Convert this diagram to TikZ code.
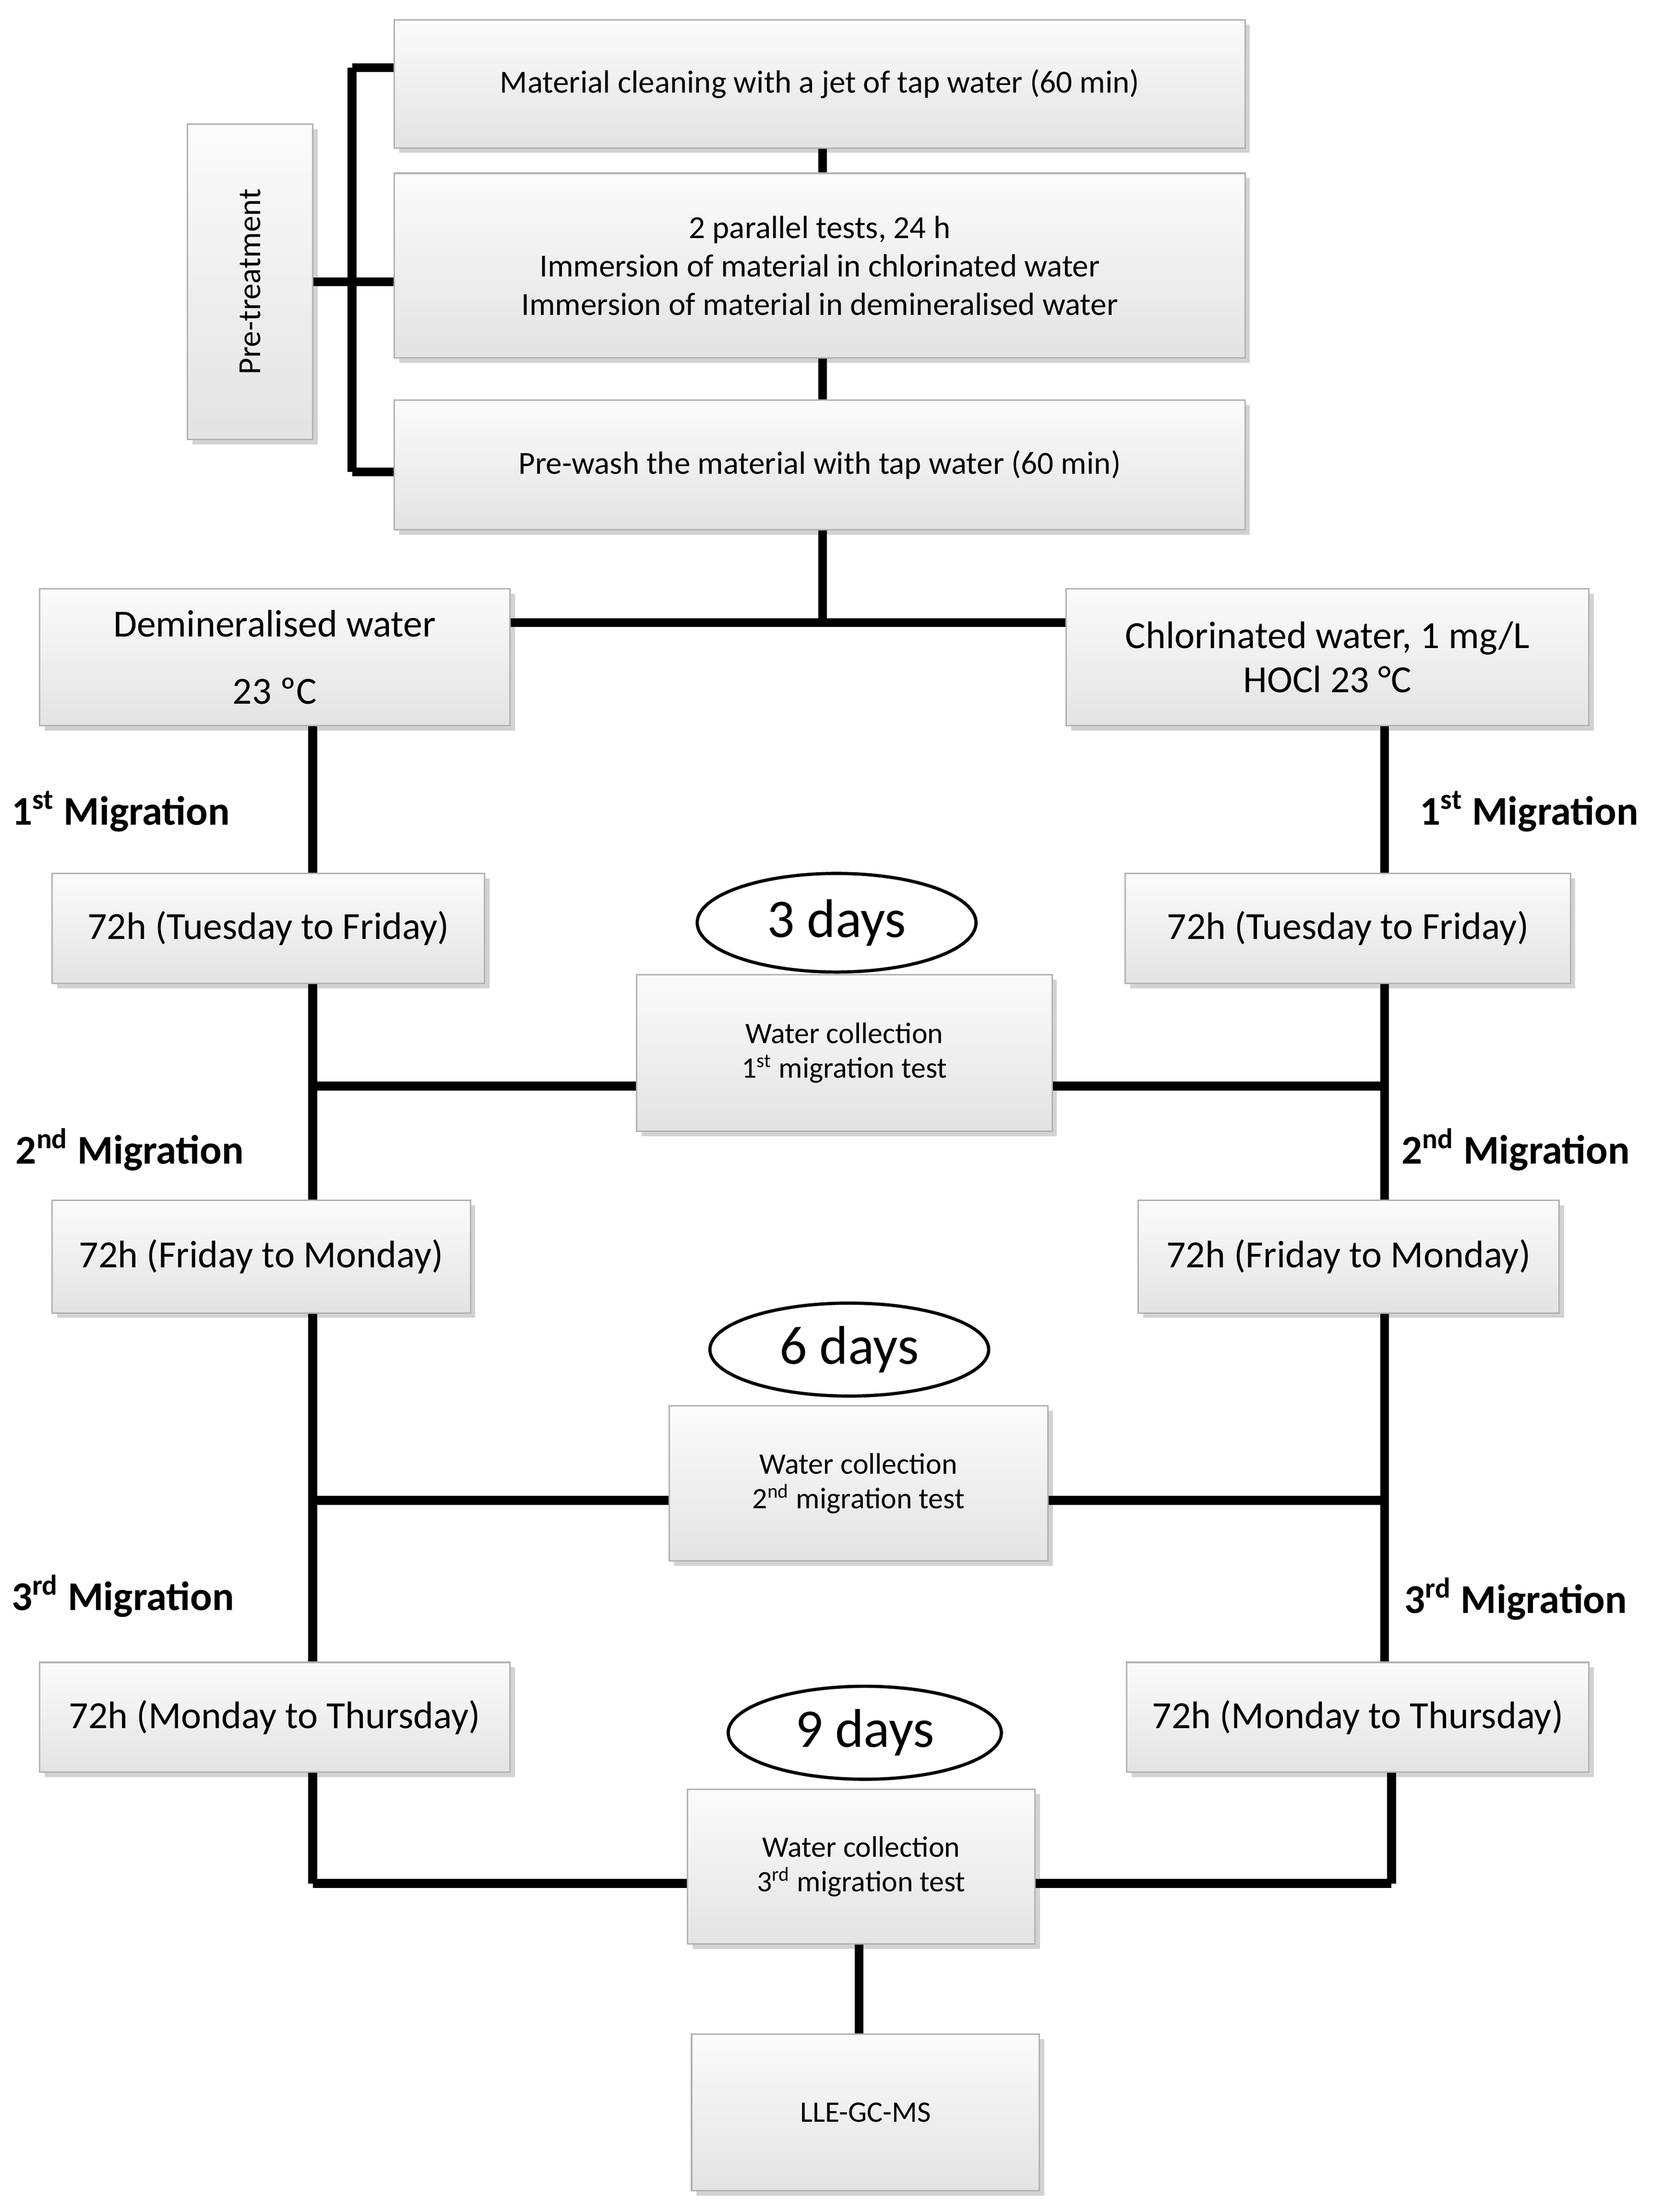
\documentclass[tikz,border=0pt]{standalone}
\usepackage{fontspec}
\setmainfont{Carlito}
\usetikzlibrary{shadows,shapes.geometric}

\tikzset{
  box/.style={draw=gray!60, line width=0.6pt, top color=gray!3, bottom color=gray!22,
    drop shadow={shadow xshift=2pt, shadow yshift=-2pt, fill=gray!70},
    align=center, inner sep=2pt},
  lbl/.style={font=\fontsize{16.5}{18}\selectfont\bfseries, anchor=west},
  oval/.style={ellipse, draw, line width=1.3pt, fill=white, font=\fontsize{22}{24}\selectfont},
  link/.style={line width=3.6pt}
}

\begin{document}
\begin{tikzpicture}[x=0.02cm, y=-0.02cm]
  \useasboundingbox (0,0) rectangle (1180,1570.2);

  % pre-treatment
  \node[box, minimum width=12.08cm, minimum height=1.82cm, font=\fontsize{13}{15}\selectfont] (clean) at (582,59.5) {Material cleaning with a jet of tap water (60 min)};
  \node[box, minimum width=12.08cm, minimum height=2.62cm, font=\fontsize{13}{15.5}\selectfont] (tests) at (582,188.5) {2 parallel tests, 24 h\\Immersion of material in chlorinated water\\Immersion of material in demineralised water};
  \node[box, minimum width=12.08cm, minimum height=1.84cm, font=\fontsize{13}{15}\selectfont] (prewash) at (582,330) {Pre-wash the material with tap water (60 min)};
  \node[box, minimum width=1.78cm, minimum height=4.48cm] (pre) at (177.5,200) {};
  \node[rotate=90, font=\fontsize{13}{15}\selectfont] (pretxt) at (pre.center) {Pre-treatment};

  % waters
  \node[box, minimum width=6.68cm, minimum height=1.94cm, font=\fontsize{15.5}{27}\selectfont] (demin) at (195,466.5) {Demineralised water\\23 ºC};
  \node[box, minimum width=7.42cm, minimum height=1.94cm, font=\fontsize{15.5}{18}\selectfont] (chlor) at (942.5,466.5) {Chlorinated water, 1 mg/L\\HOCl 23 °C};

  % migrations
  \node[box, minimum width=6.14cm, minimum height=1.56cm, font=\fontsize{15.5}{18}\selectfont] (left1) at (190.5,659) {72h (Tuesday to Friday)};
  \node[box, minimum width=6.32cm, minimum height=1.56cm, font=\fontsize{15.5}{18}\selectfont] (right1) at (957,659) {72h (Tuesday to Friday)};
  \node[box, minimum width=5.94cm, minimum height=1.6cm, font=\fontsize{15.5}{18}\selectfont] (left2) at (185.5,892) {72h (Friday to Monday)};
  \node[box, minimum width=5.98cm, minimum height=1.6cm, font=\fontsize{15.5}{18}\selectfont] (right2) at (957.5,892) {72h (Friday to Monday)};
  \node[box, minimum width=6.68cm, minimum height=1.56cm, font=\fontsize{15.5}{18}\selectfont] (left3) at (195,1219) {72h (Monday to Thursday)};
  \node[box, minimum width=6.56cm, minimum height=1.56cm, font=\fontsize{15.5}{18}\selectfont] (right3) at (964,1219) {72h (Monday to Thursday)};

  % collections
  \node[box, minimum width=5.9cm, minimum height=2.22cm, font=\fontsize{12}{14}\selectfont] (coll1) at (599.5,747.5) {Water collection\\1\textsuperscript{st} migration test};
  \node[box, minimum width=5.38cm, minimum height=2.2cm, font=\fontsize{12}{14}\selectfont] (coll2) at (609.5,1053) {Water collection\\2\textsuperscript{nd} migration test};
  \node[box, minimum width=4.94cm, minimum height=2.2cm, font=\fontsize{12}{14}\selectfont] (coll3) at (611.5,1325) {Water collection\\3\textsuperscript{rd} migration test};
  \node[box, minimum width=4.94cm, minimum height=2.22cm, font=\fontsize{12}{14}\selectfont] (lle) at (614.5,1499.5) {LLE-GC-MS};

  \node[oval, minimum width=3.96cm, minimum height=1.4cm] (day3) at (594,655) {3 days};
  \node[oval, minimum width=3.96cm, minimum height=1.32cm] (day6) at (603,958) {6 days};
  \node[oval, minimum width=3.88cm, minimum height=1.32cm] (day9) at (614,1230) {9 days};

  \node[lbl] (mL1) at (2,576) {1\textsuperscript{st} Migration};
  \node[lbl] (mR1) at (1002,576) {1\textsuperscript{st} Migration};
  \node[lbl] (mL2) at (5,816) {2\textsuperscript{nd} Migration};
  \node[lbl] (mR2) at (989,816) {2\textsuperscript{nd} Migration};
  \node[lbl] (mL3) at (2,1133) {3\textsuperscript{rd} Migration};
  \node[lbl] (mR3) at (991,1135) {3\textsuperscript{rd} Migration};

  % junctions
  \coordinate (bt) at (250,48);
  \coordinate (bm) at (250,200);
  \coordinate (bb) at (250,335);
  \coordinate (split) at (584,442);
  \coordinate (j1) at (222,771);
  \coordinate (k1) at (983,771);
  \coordinate (j2) at (222,1065);
  \coordinate (k2) at (983,1065);
  \coordinate (j3) at (222,1337);
  \coordinate (k3) at (988,1337);

  % connectors
  \draw[link] (bt) -- (bb);
  \draw[link] (pre.east) -- (bm) -- (tests.west |- bm);
  \draw[link] (bt) -- (clean.west |- bt);
  \draw[link] (bb) -- (prewash.west |- bb);
  \draw[link] (clean.south -| split) -- (tests.north -| split);
  \draw[link] (tests.south -| split) -- (prewash.north -| split);
  \draw[link] (prewash.south -| split) -- (split);
  \draw[link] (demin.east |- split) -- (chlor.west |- split);

  \draw[link] (demin.south -| j1) -- (left1.north -| j1);
  \draw[link] (left1.south -| j1) -- (left2.north -| j1);
  \draw[link] (left2.south -| j1) -- (left3.north -| j1);
  \draw[link] (left3.south -| j1) -- (j3);
  \draw[link] (chlor.south -| k1) -- (right1.north -| k1);
  \draw[link] (right1.south -| k1) -- (right2.north -| k1);
  \draw[link] (right2.south -| k1) -- (right3.north -| k1);
  \draw[link] (right3.south -| k3) -- (k3);

  \draw[link] (j1) -- (coll1.west |- j1);
  \draw[link] (coll1.east |- k1) -- (k1);
  \draw[link] (j2) -- (coll2.west |- j2);
  \draw[link] (coll2.east |- k2) -- (k2);
  \draw[link] (j3) -- (coll3.west |- j3);
  \draw[link] (coll3.east |- k3) -- (k3);
  \draw[link] (coll3.south -| 610,0) -- (lle.north -| 610,0);
\end{tikzpicture}
\end{document}
